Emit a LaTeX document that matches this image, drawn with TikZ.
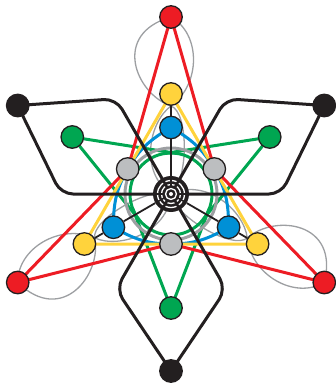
\documentclass[tikz,border=0pt]{standalone}
\usepackage{xcolor}
\usepackage{tikz}
\usetikzlibrary{positioning}
\definecolor{ink}{HTML}{231F20}
\definecolor{hubred}{HTML}{ED1C24}
\definecolor{hubyellow}{HTML}{FFD33C}
\definecolor{hubblue}{HTML}{0090D6}
\definecolor{hubgreen}{HTML}{00A651}
\definecolor{hubgray}{HTML}{BCBEC0}
\definecolor{wire}{HTML}{9D9FA2}
\pgfdeclarelayer{background}
\pgfsetlayers{background,main}

\begin{document}
\begin{tikzpicture}[x=1pt, y=1pt,
    dot/.style={circle, draw=ink, line width=1.3pt, minimum size=22.5pt, inner sep=0pt},
    hubdisc/.style={circle, fill=ink, minimum size=36pt, inner sep=0pt},
    kite/.style={draw=ink, line width=3pt, rounded corners=12pt, line join=round},
    strand/.style={line width=3pt, line join=round},
    loopline/.style={draw=wire, line width=1.3pt},
    spoke/.style={draw=ink, line width=1.8pt}]
    \useasboundingbox (-171,-189) rectangle (165,194);

    % nodes
    \node (hub) [hubdisc] at (0,0) {};
    \foreach \a/\b in {90/30, 210/150, 330/270} {
        \node (red\a)   [dot, fill=hubred]    at (\a:177)  {};
        \node (yel\a)   [dot, fill=hubyellow] at (\a:100)  {};
        \node (blue\a)  [dot, fill=hubblue]   at (\a:66.5) {};
        \node (black\b) [dot, fill=ink]       at (\b:177)  {};
        \node (green\b) [dot, fill=hubgreen]  at (\b:114)  {};
        \node (gray\b)  [dot, fill=hubgray]   at (\b:50)   {};
        \coordinate (tanl\b) at (\b-68.9:41);
        \coordinate (tanr\b) at (\b+68.9:41);
        \coordinate (kitel\b) at (\b-30:110);
        \coordinate (kiter\b) at (\b+30:110);
    }

    % rings of the hub
    \foreach \rr in {13.5,9.5,5.5}
        \draw [white, line width=1.3pt] (hub) circle (\rr pt);
    \fill [white] (hub) circle (2pt);
    \foreach \a in {0,60,...,300}
        \draw [ink, line width=2.6pt] (\a:7.5) -- (\a:17);
    \foreach \a in {90,210,330}
        \draw [ink, line width=1.6pt] (\a:7.5) -- (\a:17);

    \begin{pgfonlayer}{background}
    % gray loops
    \foreach \a/\r in {0/90, 120/210, 240/330}
        \draw [loopline, rotate=\a] (hub.center) .. controls (18,15) and (17.5,82) .. (0,88)
            .. controls (-35,100) and (-60,160) .. (red\r.center)
            .. controls (30,160) and (30,110) .. (0,88)
            .. controls (-22,72) and (-32,22) .. (hub.center);

    % green belt
    \draw [strand, hubgreen] (hub) circle (41pt);
    \foreach \b in {30,150,270} {
        \draw [strand, hubgreen] (green\b.center) -- (tanl\b);
        \draw [strand, hubgreen] (green\b.center) -- (tanr\b);
    }

    % gray ring
    \draw [strand, wire] (hub) circle (46pt);

    % blue
    \draw [strand, hubblue] (blue90.center) to[out=210,in=60] (gray150.center)
        to[out=240,in=90] (blue210.center) to[out=330,in=180] (gray270.center)
        to[out=0,in=210] (blue330.center) to[out=90,in=300] (gray30.center)
        to[out=120,in=330] (blue90.center);

    % yellow
    \draw [strand, hubyellow] (yel90.center) -- (yel210.center) -- (yel330.center) -- cycle;

    % red
    \draw [strand, hubred, rounded corners=14pt] (red90.center) -- (gray150.center)
        -- (red210.center) -- (gray270.center) -- (red330.center) -- (gray30.center) -- cycle;

    % black kites
    \foreach \b in {30,150,270}
        \draw [kite] (hub.center) -- (kitel\b) -- (black\b.center) -- (kiter\b) -- cycle;

    % thin spokes
    \foreach \a in {90,210,330}
        \draw [spoke] (hub) -- (blue\a) -- (yel\a);
    \end{pgfonlayer}
\end{tikzpicture}
\end{document}
